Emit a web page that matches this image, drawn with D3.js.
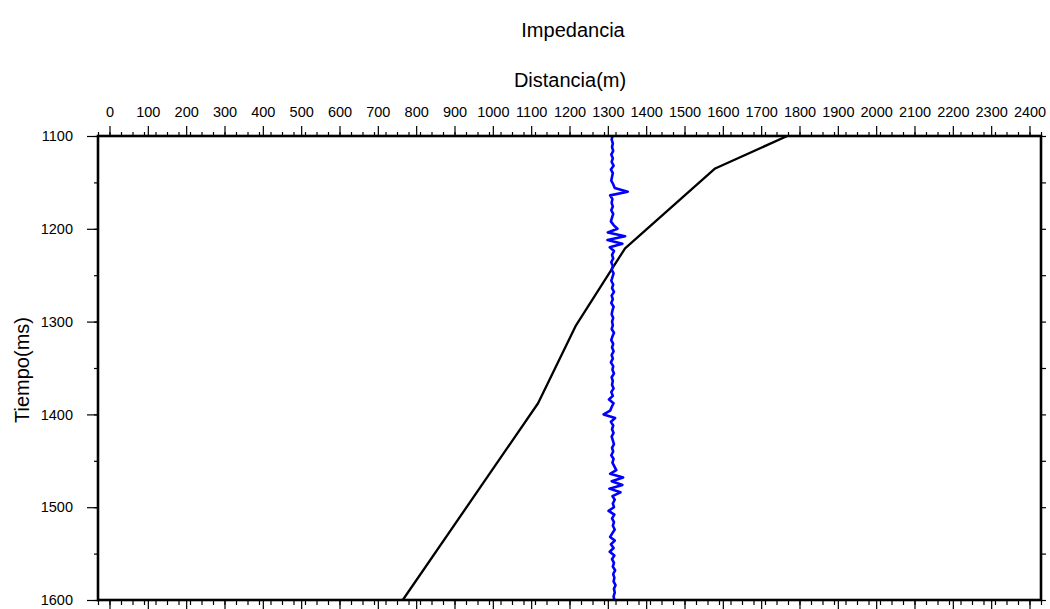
<!DOCTYPE html>
<html>
<head>
<meta charset="utf-8">
<script src="https://cdn.jsdelivr.net/npm/d3@7"></script>
<style>
  html, body { margin: 0; padding: 0; background: #fff; }
  svg { display: block; font-family: "Liberation Sans", Arial, Helvetica, sans-serif; }
  .tick text { fill: #000; }
</style>
</head>
<body>
<svg id="chart" width="1050" height="609"></svg>
<script>
// Axis ticks
const ticksDistancia = d3.range(0, 2401, 100);          // labelled distance ticks (m)
const ticksTraza = d3.range(-30, 2431, 30);             // trace spacing ticks (m)
const ticksTiempo = d3.range(1100, 1601, 100);          // labelled time ticks (ms)
const ticksTiempoMenor = d3.range(1100, 1601, 50);      // minor time ticks (ms)

// Impedance curve: [distance (m), time (ms)]
const curvaDist = [1768, 1580, 1345, 1217, 1118, 765];
const curvaTiempo = [1100, 1135, 1221, 1304, 1388, 1600];

// Trace sampled every 4 ms from 1100 to 1600 ms; position in metres
const trazaTiempo = d3.range(1100, 1601, 4);
const trazaDist = [
  1312,1310,1313,1311,1314,1309,1313,1310,1315,1308,1313,1311,1309,
  1314,1318,1352,1306,1312,1310,
  1313,1309,1314,1311,1308,1315,
  1325,1300,1345,1299,1338,1305,1316,
  1311,1314,1309,1313,1310,1315,1312,1309,1314,1311,1316,1310,1313,1309,1315,1312,1310,1314,1311,
  1313,1310,1316,1312,1309,1314,1311,1315,1310,1313,1308,1314,1312,1316,1310,1313,1311,1315,1309,1313,
  1303,1315,1310,1306,1289,1319,1308,1314,
  1311,1315,1310,1313,1316,1311,1314,1309,1315,1312,1317,
  1322,1306,1340,1310,1338,1304,1333,
  1312,1318,1313,1316,
  1302,1317,1311,
  1316,1313,1318,1312,
  1306,1318,1308,1315,1305,1317,1311,
  1316,1313,1319,1314,1317,1315,1320,1316,1318,1315,1317
];

const svg = d3.select("#chart");
const x = d3.scaleLinear().domain([-30, 2430]).range([98, 1041]);
const y = d3.scaleLinear().domain([1100, 1600]).range([136, 600]);

function styleTicks(g) {
  g.select(".domain").remove();
  g.selectAll(".tick line").attr("stroke", "#000").attr("stroke-width", 1.2);
  g.selectAll(".tick text").attr("font-size", 14.5).attr("font-family", "Liberation Sans, Arial, sans-serif");
}

// Top axis
svg.append("g").attr("transform", `translate(0,${y.range()[0]})`)
  .call(d3.axisTop(x).tickValues(ticksTraza).tickSize(4).tickFormat(""))
  .call(styleTicks);
svg.append("g").attr("transform", `translate(0,${y.range()[0]})`)
  .call(d3.axisTop(x).tickValues(ticksDistancia).tickSize(10).tickPadding(9).tickFormat(d3.format("d")))
  .call(styleTicks);

// Bottom axis
svg.append("g").attr("transform", `translate(0,${y.range()[1]})`)
  .call(d3.axisBottom(x).tickValues(ticksTraza).tickSize(5).tickFormat(""))
  .call(styleTicks);
svg.append("g").attr("transform", `translate(0,${y.range()[1]})`)
  .call(d3.axisBottom(x).tickValues(ticksDistancia).tickSize(10).tickFormat(""))
  .call(styleTicks);

// Left axis
svg.append("g").attr("transform", `translate(${x.range()[0]},0)`)
  .call(d3.axisLeft(y).tickValues(ticksTiempoMenor).tickSize(4).tickFormat(""))
  .call(styleTicks);
svg.append("g").attr("transform", `translate(${x.range()[0]},0)`)
  .call(d3.axisLeft(y).tickValues(ticksTiempo).tickSize(11).tickPadding(14).tickFormat(d3.format("d")))
  .call(styleTicks);

// Right axis
svg.append("g").attr("transform", `translate(${x.range()[1]},0)`)
  .call(d3.axisRight(y).tickValues(ticksTiempoMenor).tickSize(5).tickFormat(""))
  .call(styleTicks);

// Impedance curve
const curva = curvaDist.map((d, i) => [d, curvaTiempo[i]]);
svg.append("path")
  .datum(curva)
  .attr("fill", "none")
  .attr("stroke", "#000")
  .attr("stroke-width", 2.3)
  .attr("stroke-linejoin", "round")
  .attr("d", d3.line().x(d => x(d[0])).y(d => y(d[1])));

// Trace
const traza = trazaDist.map((d, i) => [d, trazaTiempo[i]]);
svg.append("path")
  .datum(traza)
  .attr("fill", "none")
  .attr("stroke", "#0000ff")
  .attr("stroke-width", 2.6)
  .attr("stroke-linejoin", "round")
  .attr("d", d3.line().x(d => x(d[0])).y(d => y(d[1])));

// Frame
svg.append("rect")
  .attr("x", x.range()[0]).attr("y", y.range()[0])
  .attr("width", x.range()[1] - x.range()[0])
  .attr("height", y.range()[1] - y.range()[0])
  .attr("fill", "none").attr("stroke", "#000").attr("stroke-width", 2.6);

// Titles
svg.append("text").attr("x", 573).attr("y", 37).attr("text-anchor", "middle")
  .attr("font-size", 20).attr("fill", "#000").text("Impedancia");
svg.append("text").attr("x", 570).attr("y", 87).attr("text-anchor", "middle")
  .attr("font-size", 20).attr("fill", "#000").text("Distancia(m)");
svg.append("text").attr("transform", "translate(29,370) rotate(-90)").attr("text-anchor", "middle")
  .attr("font-size", 20).attr("fill", "#000").text("Tiempo(ms)");
</script>
</body>
</html>
